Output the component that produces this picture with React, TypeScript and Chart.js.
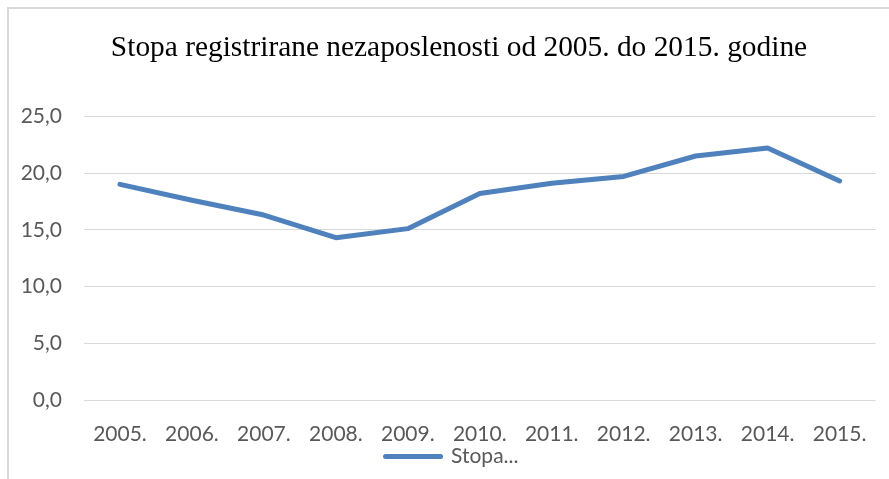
import React, { useEffect, useRef } from "react";
import { Chart, registerables } from "chart.js";

Chart.register(...registerables);

const years = ["2005.", "2006.", "2007.", "2008.", "2009.", "2010.", "2011.", "2012.", "2013.", "2014.", "2015."];
const rates = [19.0, 17.6, 16.3, 14.3, 15.1, 18.2, 19.1, 19.7, 21.5, 22.2, 19.3];
const seriesName = "Stopa registrirane nezaposlenosti";
const legendText = "Stopa...";
const titleText = "Stopa registrirane nezaposlenosti od 2005. do 2015. godine";
const yMin = 0;
const yMax = 25;
const yStep = 5;

const LINE_COLOR = "#4F81BD";
const GRID_COLOR = "#D9D9D9";
const TEXT_COLOR = "#595959";
const TICK_FONT = { family: "Lato, 'Open Sans', sans-serif", size: 21 };

// shifts the title and legend blocks horizontally to match the reference's centring
const shiftBlocks = {
  id: "shiftBlocks",
  afterLayout(chart: any) {
    if (chart.titleBlock) chart.titleBlock.left = 42;
    if (chart.legend) chart.legend.left = 28;
  },
};

export default function App() {
  const canvasRef = useRef<HTMLCanvasElement | null>(null);

  useEffect(() => {
    const canvas = canvasRef.current;
    if (!canvas) return;
    const chart = new Chart(canvas, {
      type: "line",
      data: {
        labels: years,
        datasets: [
          {
            label: seriesName,
            data: rates,
            borderColor: LINE_COLOR,
            backgroundColor: LINE_COLOR,
            borderWidth: 5,
            borderCapStyle: "round",
            borderJoinStyle: "round",
            pointRadius: 0,
            pointHoverRadius: 0,
            tension: 0,
            fill: false,
          },
        ],
      },
      plugins: [shiftBlocks],
      options: {
        animation: false,
        responsive: false,
        maintainAspectRatio: false,
        layout: { padding: { left: 0, right: 13, top: 0, bottom: 2 } },
        plugins: {
          tooltip: { enabled: false },
          title: {
            display: true,
            text: titleText,
            color: "#000000",
            font: { family: "'Liberation Serif', 'Times New Roman', serif", size: 29.4, weight: "normal", lineHeight: 1.2 },
            padding: { top: 31, bottom: 50 },
          },
          legend: {
            display: true,
            position: "bottom",
            labels: {
              color: TEXT_COLOR,
              font: TICK_FONT,
              usePointStyle: true,
              pointStyle: "line",
              pointStyleWidth: 55,
              boxHeight: 21,
              padding: 4,
              generateLabels: (c: any) => {
                const items = Chart.defaults.plugins.legend.labels.generateLabels(c);
                return items.map((it: any) => ({ ...it, text: legendText, lineCap: "round", lineWidth: 5 }));
              },
            },
          },
        },
        scales: {
          x: {
            type: "category",
            offset: true,
            grid: { display: false, drawTicks: false },
            border: { display: false },
            ticks: { color: TEXT_COLOR, font: TICK_FONT, padding: 22, maxRotation: 0, autoSkip: false },
            afterFit: (scale: any) => {
              scale.height = 42;
            },
          },
          y: {
            min: yMin,
            max: yMax,
            grid: { color: GRID_COLOR, lineWidth: 1, drawTicks: false },
            border: { display: false },
            ticks: {
              stepSize: yStep,
              color: TEXT_COLOR,
              font: TICK_FONT,
              padding: 22,
              callback: (v: any) => Number(v).toFixed(1).replace(".", ","),
            },
            afterFit: (scale: any) => {
              scale.width = 84;
            },
          },
        },
      },
    });
    return () => chart.destroy();
  }, []);

  return (
    <div style={{ position: "fixed", left: 0, top: 0, width: 889, height: 479, background: "#ffffff", overflow: "hidden" }}>
      <div
        style={{
          position: "absolute",
          left: 7,
          top: 7,
          width: 920,
          height: 520,
          border: `2px solid ${GRID_COLOR}`,
          boxSizing: "border-box",
        }}
      />
      <canvas ref={canvasRef} width={889} height={479} style={{ position: "absolute", left: 0, top: 0, display: "block" }} />
    </div>
  );
}
